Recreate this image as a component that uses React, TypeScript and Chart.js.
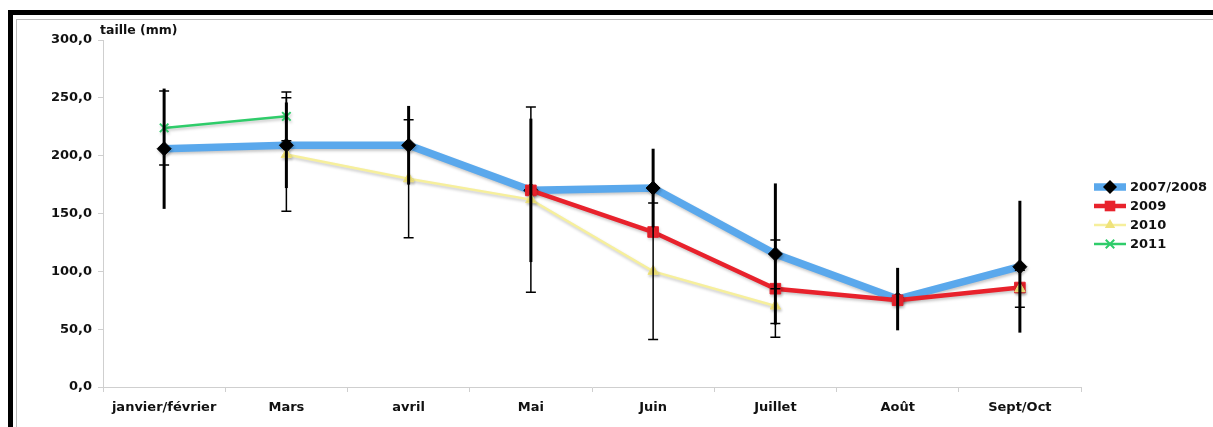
import React, { useEffect, useRef } from "react";
import { Chart, registerables } from "chart.js";

Chart.register(...registerables);

const categories = ["janvier/février", "Mars", "avril", "Mai", "Juin", "Juillet", "Août", "Sept/Oct"];
const seriesNames = ["2007/2008", "2009", "2010", "2011"];

const values2007 = [206, 209, 209, 170, 172, 115, 76, 104];
const values2009 = [null, null, null, 170, 134, 85, 75, 86];
const values2010 = [null, 201, 180, 162, 100, 70, null, 85];
const values2011 = [224, 234, null, null, null, null, null, null];

const err2007 = [52, 37, 34, 62, 34, 61, 27, 57];
const err2009 = [null, null, null, null, null, 42, null, null];
const err2010 = [null, 49, 51, 80, 59, 15, null, 16];
const err2011 = [32, 21, null, null, null, null, null, null];

const yTickValues = [0, 50, 100, 150, 200, 250, 300];
const yAxisTitle = "taille (mm)";

const FONT = "'DejaVu Sans', Verdana, sans-serif";

const errorSets = [
  { err: err2007, width: 3, cap: 0 },
  { err: err2009, width: 1.5, cap: 10 },
  { err: err2010, width: 1.5, cap: 10 },
  { err: err2011, width: 1.5, cap: 10 },
];

const shadowPlugin = {
  id: "shadow",
  beforeDatasetDraw(chart: any) {
    const ctx = chart.ctx;
    ctx.save();
    ctx.shadowColor = "rgba(0,0,0,0.22)";
    ctx.shadowBlur = 3;
    ctx.shadowOffsetX = 1;
    ctx.shadowOffsetY = 2;
  },
  afterDatasetDraw(chart: any) {
    chart.ctx.restore();
  },
};

const errorBarPlugin = {
  id: "errorBars",
  afterDatasetsDraw(chart: any) {
    const ctx = chart.ctx;
    const x = chart.scales.x;
    const y = chart.scales.y;
    ctx.save();
    ctx.strokeStyle = "#000";
    chart.data.datasets.forEach((ds: any, di: number) => {
      const es = errorSets[di];
      ds.data.forEach((v: number | null, i: number) => {
        const e = es.err[i];
        if (v == null || e == null) return;
        const px = x.getPixelForValue(i);
        const top = y.getPixelForValue(v + e);
        const bot = y.getPixelForValue(v - e);
        ctx.lineWidth = es.width;
        ctx.beginPath();
        ctx.moveTo(px, top);
        ctx.lineTo(px, bot);
        if (es.cap) {
          ctx.moveTo(px - es.cap / 2, top);
          ctx.lineTo(px + es.cap / 2, top);
          ctx.moveTo(px - es.cap / 2, bot);
          ctx.lineTo(px + es.cap / 2, bot);
        }
        ctx.stroke();
      });
    });
    ctx.restore();
  },
};

function drawMarker(ctx: CanvasRenderingContext2D, ds: any, x: number, y: number) {
  const r = ds.pointRadius;
  ctx.save();
  ctx.fillStyle = ds.pointBackgroundColor;
  ctx.strokeStyle = ds.pointBorderColor;
  ctx.lineWidth = ds.pointBorderWidth;
  ctx.beginPath();
  if (ds.pointStyle === "rectRot") {
    ctx.moveTo(x, y - r);
    ctx.lineTo(x + r, y);
    ctx.lineTo(x, y + r);
    ctx.lineTo(x - r, y);
    ctx.closePath();
    ctx.fill();
  } else if (ds.pointStyle === "rect") {
    const s = Math.SQRT1_2 * r;
    ctx.rect(x - s, y - s, 2 * s, 2 * s);
    ctx.fill();
  } else if (ds.pointStyle === "triangle") {
    ctx.moveTo(x, y - r);
    ctx.lineTo(x + r * 0.866, y + r * 0.5);
    ctx.lineTo(x - r * 0.866, y + r * 0.5);
    ctx.closePath();
    ctx.fill();
  } else if (ds.pointStyle === "crossRot") {
    const d = Math.SQRT1_2 * r;
    ctx.moveTo(x - d, y - d);
    ctx.lineTo(x + d, y + d);
    ctx.moveTo(x + d, y - d);
    ctx.lineTo(x - d, y + d);
    ctx.stroke();
  }
  ctx.restore();
}

const titleLegendPlugin = {
  id: "titleLegend",
  afterDraw(chart: any) {
    const ctx = chart.ctx;
    const area = chart.chartArea;
    ctx.save();
    ctx.fillStyle = "#111";
    ctx.font = `bold 12.5px ${FONT}`;
    ctx.textBaseline = "alphabetic";
    ctx.textAlign = "left";
    ctx.fillText(yAxisTitle, area.left - 3, area.top - 6);

    const n = chart.data.datasets.length;
    const step = 19;
    const startY = chart.height / 2 + 2 - ((n - 1) * step) / 2;
    const lx = area.right + 13;
    const lineW = 32;
    chart.data.datasets.forEach((ds: any, i: number) => {
      const cy = startY + i * step;
      ctx.save();
      ctx.strokeStyle = ds.borderColor;
      ctx.lineWidth = ds.borderWidth;
      ctx.beginPath();
      ctx.moveTo(lx, cy);
      ctx.lineTo(lx + lineW, cy);
      ctx.stroke();
      ctx.restore();
      drawMarker(ctx, ds, lx + lineW / 2, cy);
      ctx.fillStyle = "#111";
      ctx.font = `bold 13px ${FONT}`;
      ctx.textBaseline = "middle";
      ctx.fillText(ds.label, lx + lineW + 4, cy + 1);
    });
    ctx.restore();
  },
};

export default function App() {
  const ref = useRef<HTMLCanvasElement | null>(null);

  useEffect(() => {
    if (!ref.current) return;
    const chart = new Chart(ref.current, {
      type: "line",
      data: {
        labels: categories,
        datasets: [
          {
            label: seriesNames[0],
            data: values2007,
            order: 4,
            borderColor: "#5aa8ec",
            backgroundColor: "#5aa8ec",
            borderWidth: 7.5,
            pointStyle: "rectRot",
            pointRadius: 7,
            pointBackgroundColor: "#000",
            pointBorderColor: "#000",
            pointBorderWidth: 1,
            spanGaps: false,
          },
          {
            label: seriesNames[1],
            data: values2009,
            order: 3,
            borderColor: "#e8222c",
            backgroundColor: "#e8222c",
            borderWidth: 4.5,
            pointStyle: "rect",
            pointRadius: 7.5,
            pointBackgroundColor: "#e8222c",
            pointBorderColor: "#e8222c",
            pointBorderWidth: 1,
            spanGaps: false,
          },
          {
            label: seriesNames[2],
            data: values2010,
            order: 2,
            borderColor: "#f6ef9c",
            backgroundColor: "#f6ef9c",
            borderWidth: 2.5,
            pointStyle: "triangle",
            pointRadius: 6,
            pointBackgroundColor: "#efe27a",
            pointBorderColor: "#efe27a",
            pointBorderWidth: 1,
            spanGaps: false,
          },
          {
            label: seriesNames[3],
            data: values2011,
            order: 1,
            borderColor: "#2fcc6a",
            backgroundColor: "#2fcc6a",
            borderWidth: 2.5,
            pointStyle: "crossRot",
            pointRadius: 6,
            pointBackgroundColor: "#2fcc6a",
            pointBorderColor: "#2fcc6a",
            pointBorderWidth: 2,
            spanGaps: false,
          },
        ],
      },
      options: {
        animation: false,
        responsive: false,
        maintainAspectRatio: false,
        layout: { padding: { left: 0, top: 40, right: 132, bottom: 0 } },
        plugins: {
          legend: { display: false },
          tooltip: { enabled: false },
          title: { display: false },
        },
        scales: {
          x: {
            type: "category",
            offset: true,
            grid: {
              offset: true,
              drawOnChartArea: false,
              tickLength: 5,
              color: "#cfcfcf",
            },
            border: { color: "#cfcfcf", width: 1 },
            ticks: {
              color: "#111",
              font: { family: FONT, size: 13, weight: "bold" },
              padding: 8,
              maxRotation: 0,
              autoSkip: false,
            },
            afterFit(scale: any) {
              scale.height = 40;
            },
          },
          y: {
            min: 0,
            max: 300,
            afterBuildTicks(scale: any) {
              scale.ticks = yTickValues.map((v) => ({ value: v }));
            },
            grid: {
              drawOnChartArea: false,
              tickLength: 5,
              color: "#cfcfcf",
            },
            border: { color: "#cfcfcf", width: 1 },
            ticks: {
              color: "#111",
              font: { family: FONT, size: 13, weight: "bold" },
              padding: 6,
              callback: (v: any) => Number(v).toFixed(1).replace(".", ","),
            },
            afterFit(scale: any) {
              scale.width = 103;
            },
          },
        },
      } as any,
      plugins: [shadowPlugin, errorBarPlugin, titleLegendPlugin],
    });
    return () => chart.destroy();
  }, []);

  return (
    <div style={{ position: "fixed", left: 0, top: 0, width: 1213, height: 427, overflow: "hidden", background: "#fff" }}>
      <div
        style={{
          position: "absolute",
          left: 8,
          top: 10,
          width: 1400,
          height: 600,
          borderTop: "5px solid #000",
          borderLeft: "5px solid #000",
          boxSizing: "border-box",
        }}
      />
      <div
        style={{
          position: "absolute",
          left: 16,
          top: 19,
          width: 1400,
          height: 600,
          borderTop: "1px solid #bdbdbd",
          borderLeft: "1px solid #bdbdbd",
          boxSizing: "border-box",
        }}
      />
      <canvas ref={ref} width={1213} height={427} style={{ position: "absolute", left: 0, top: 0 }} />
    </div>
  );
}
